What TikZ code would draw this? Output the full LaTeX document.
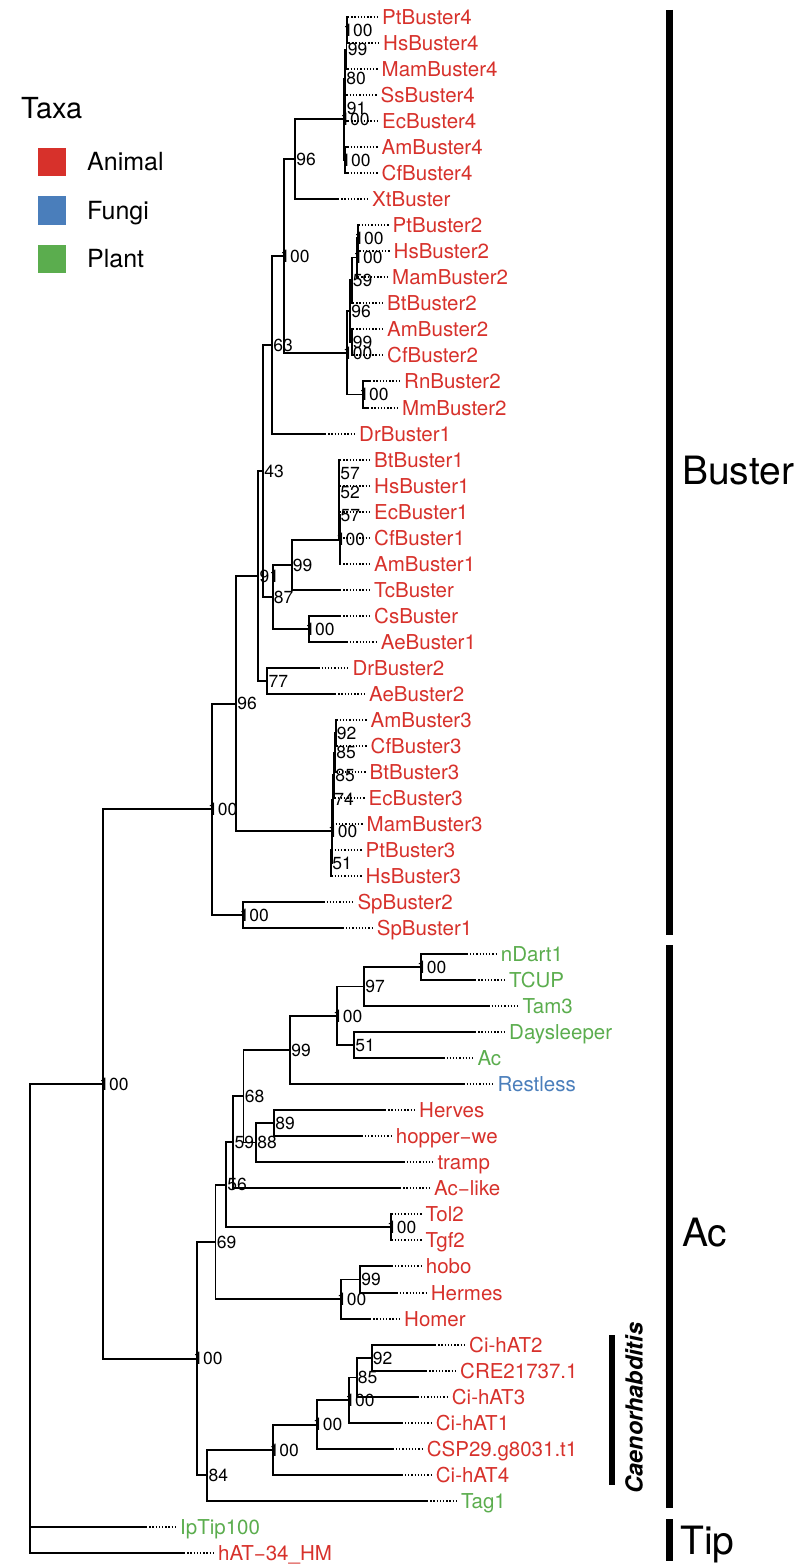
\documentclass[tikz,border=0pt]{standalone}
\usepackage{fontspec}
\setmainfont{TeX Gyre Heros}
\usepackage{xcolor}
\usepackage{tikz}
\definecolor{animal}{HTML}{D7312B}
\definecolor{fungi}{HTML}{4A7EBB}
\definecolor{plant}{HTML}{5BAD4E}

\begin{document}
\begin{tikzpicture}[x=1pt,y=-1pt]
		\tikzstyle{branch}=[line width=1.9pt]
		\tikzstyle{dots}=[line width=1.3pt,dash pattern=on 1.3pt off 1.9pt]
		\tikzstyle{tiplab}=[anchor=west,xshift=31pt,inner xsep=3pt,inner ysep=0pt,text height=14.8pt,text depth=0pt,text=animal,font=\fontsize{20.5}{22}\selectfont]
		\tikzstyle{boot}=[xshift=11pt,inner sep=0pt,text height=12.5pt,text depth=0pt,font=\fontsize{17.5}{18}\selectfont]
		\tikzstyle{cladebar}=[line width=7pt]
		\tikzstyle{cladelab}=[anchor=west,inner sep=0pt,text height=28pt,text depth=0pt,font=\fontsize{39}{40}\selectfont]
		\tikzstyle{keybox}=[draw=none,minimum size=28pt,inner sep=0pt]
		\tikzstyle{keylab}=[anchor=west,inner sep=0pt,text height=18pt,text depth=0pt,font=\fontsize{25}{26}\selectfont]
		\useasboundingbox (0,0) rectangle (800,1565);
		% tips
		\coordinate (tPt4) at (348,17); \node[tiplab] (lPt4) at (tPt4) {PtBuster4};
		\coordinate (tHs4) at (349,43); \node[tiplab] (lHs4) at (tHs4) {HsBuster4};
		\coordinate (tMam4) at (347.5,69); \node[tiplab] (lMam4) at (tMam4) {MamBuster4};
		\coordinate (tSs4) at (346.5,95); \node[tiplab] (lSs4) at (tSs4) {SsBuster4};
		\coordinate (tEc4) at (348,121); \node[tiplab] (lEc4) at (tEc4) {EcBuster4};
		\coordinate (tAm4) at (347.5,147); \node[tiplab] (lAm4) at (tAm4) {AmBuster4};
		\coordinate (tCf4) at (347.5,173); \node[tiplab] (lCf4) at (tCf4) {CfBuster4};
		\coordinate (tXt) at (338,199); \node[tiplab] (lXt) at (tXt) {XtBuster};
		\coordinate (tPt2) at (358.5,225); \node[tiplab] (lPt2) at (tPt2) {PtBuster2};
		\coordinate (tHs2) at (359.5,251); \node[tiplab] (lHs2) at (tHs2) {HsBuster2};
		\coordinate (tMam2) at (358,277); \node[tiplab] (lMam2) at (tMam2) {MamBuster2};
		\coordinate (tBt2) at (353,303); \node[tiplab] (lBt2) at (tBt2) {BtBuster2};
		\coordinate (tAm2) at (353,329); \node[tiplab] (lAm2) at (tAm2) {AmBuster2};
		\coordinate (tCf2) at (353,355); \node[tiplab] (lCf2) at (tCf2) {CfBuster2};
		\coordinate (tRn2) at (370,381); \node[tiplab] (lRn2) at (tRn2) {RnBuster2};
		\coordinate (tMm2) at (368,408); \node[tiplab] (lMm2) at (tMm2) {MmBuster2};
		\coordinate (tDr1) at (325,434); \node[tiplab] (lDr1) at (tDr1) {DrBuster1};
		\coordinate (tBt1) at (340,460); \node[tiplab] (lBt1) at (tBt1) {BtBuster1};
		\coordinate (tHs1) at (340,486); \node[tiplab] (lHs1) at (tHs1) {HsBuster1};
		\coordinate (tEc1) at (340,512); \node[tiplab] (lEc1) at (tEc1) {EcBuster1};
		\coordinate (tCf1) at (340,538); \node[tiplab] (lCf1) at (tCf1) {CfBuster1};
		\coordinate (tAm1) at (340,564); \node[tiplab] (lAm1) at (tAm1) {AmBuster1};
		\coordinate (tTc) at (340,590); \node[tiplab] (lTc) at (tTc) {TcBuster};
		\coordinate (tCs) at (340,616); \node[tiplab] (lCs) at (tCs) {CsBuster};
		\coordinate (tAe1) at (346.7,642); \node[tiplab] (lAe1) at (tAe1) {AeBuster1};
		\coordinate (tDr2) at (318.3,668); \node[tiplab] (lDr2) at (tDr2) {DrBuster2};
		\coordinate (tAe2) at (335,694); \node[tiplab] (lAe2) at (tAe2) {AeBuster2};
		\coordinate (tAm3) at (336.5,720); \node[tiplab] (lAm3) at (tAm3) {AmBuster3};
		\coordinate (tCf3) at (336.5,746); \node[tiplab] (lCf3) at (tCf3) {CfBuster3};
		\coordinate (tBt3) at (335.5,772); \node[tiplab] (lBt3) at (tBt3) {BtBuster3};
		\coordinate (tEc3) at (334.5,798); \node[tiplab] (lEc3) at (tEc3) {EcBuster3};
		\coordinate (tMam3) at (332.5,824); \node[tiplab] (lMam3) at (tMam3) {MamBuster3};
		\coordinate (tPt3) at (331.5,850); \node[tiplab] (lPt3) at (tPt3) {PtBuster3};
		\coordinate (tHs3) at (331.5,876); \node[tiplab] (lHs3) at (tHs3) {HsBuster3};
		\coordinate (tSp2) at (323.3,902); \node[tiplab] (lSp2) at (tSp2) {SpBuster2};
		\coordinate (tSp1) at (342.7,928); \node[tiplab] (lSp1) at (tSp1) {SpBuster1};
		\coordinate (tnDart) at (466.7,954); \node[tiplab,text=plant] (lnDart) at (tnDart) {nDart1};
		\coordinate (tTCUP) at (475,980); \node[tiplab,text=plant] (lTCUP) at (tTCUP) {TCUP};
		\coordinate (tTam) at (488.3,1006); \node[tiplab,text=plant] (lTam) at (tTam) {Tam3};
		\coordinate (tDays) at (475,1032); \node[tiplab,text=plant] (lDays) at (tDays) {Daysleeper};
		\coordinate (tAc) at (443.3,1058); \node[tiplab,text=plant] (lAc) at (tAc) {Ac};
		\coordinate (tRest) at (463.3,1084); \node[tiplab,text=fungi] (lRest) at (tRest) {Restless};
		\coordinate (tHerv) at (385,1110); \node[tiplab] (lHerv) at (tHerv) {Herves};
		\coordinate (tHop) at (361.7,1136); \node[tiplab] (lHop) at (tHop) {hopper−we};
		\coordinate (tTramp) at (403.3,1162); \node[tiplab] (lTramp) at (tTramp) {tramp};
		\coordinate (tAcl) at (400,1188); \node[tiplab] (lAcl) at (tAcl) {Ac−like};
		\coordinate (tTol) at (391.5,1214); \node[tiplab] (lTol) at (tTol) {Tol2};
		\coordinate (tTgf) at (391.5,1240); \node[tiplab] (lTgf) at (tTgf) {Tgf2};
		\coordinate (tHobo) at (391.7,1266); \node[tiplab] (lHobo) at (tHobo) {hobo};
		\coordinate (tHerm) at (396.7,1293); \node[tiplab] (lHerm) at (tHerm) {Hermes};
		\coordinate (tHomer) at (370,1319); \node[tiplab] (lHomer) at (tHomer) {Homer};
		\coordinate (tCi2) at (435,1345); \node[tiplab] (lCi2) at (tCi2) {Ci-hAT2};
		\coordinate (tCRE) at (426,1371); \node[tiplab] (lCRE) at (tCRE) {CRE21737.1};
		\coordinate (tCi3) at (417.7,1397); \node[tiplab] (lCi3) at (tCi3) {Ci-hAT3};
		\coordinate (tCi1) at (401.7,1423); \node[tiplab] (lCi1) at (tCi1) {Ci-hAT1};
		\coordinate (tCSP) at (392.7,1449); \node[tiplab] (lCSP) at (tCSP) {CSP29.g8031.t1};
		\coordinate (tCi4) at (401.7,1475); \node[tiplab] (lCi4) at (tCi4) {Ci-hAT4};
		\coordinate (tTag) at (427,1501); \node[tiplab,text=plant] (lTag) at (tTag) {Tag1};
		\coordinate (tIp) at (146,1527); \node[tiplab,text=plant] (lIp) at (tIp) {IpTip100};
		\coordinate (thAT) at (184,1553); \node[tiplab] (lhAT) at (thAT) {hAT−34\_HM};
		\foreach \t in {Pt4,Hs4,Mam4,Ss4,Ec4,Am4,Cf4,Xt,Pt2,Hs2,Mam2,Bt2,Am2,Cf2,Rn2,Mm2,Dr1,Bt1,Hs1,Ec1,Cf1,Am1,Tc,Cs,Ae1,Dr2,Ae2,Am3,Cf3,Bt3,Ec3,Mam3,Pt3,Hs3,Sp2,Sp1,nDart,TCUP,Tam,Days,Ac,Rest,Herv,Hop,Tramp,Acl,Tol,Tgf,Hobo,Herm,Homer,Ci2,CRE,Ci3,Ci1,CSP,Ci4,Tag,Ip,hAT}
			\draw[dots] (t\t) -- (l\t.west);
		% Buster
		\coordinate (b4ph) at (347,30);
		\coordinate (b4m) at (346.5,49.5);
		\coordinate (b4se) at (345.5,108);
		\coordinate (b4e) at (345,78.75);
		\coordinate (b4ac) at (345,160);
		\coordinate (b4) at (344,119.4);
		\coordinate (bx) at (295,159.2);
		\coordinate (b2ph) at (358,238);
		\coordinate (b2m) at (357,257.5);
		\coordinate (b2b) at (351.7,280.25);
		\coordinate (b2ac) at (351.7,342);
		\coordinate (b2x) at (350,311.1);
		\coordinate (b2rm) at (363,394.5);
		\coordinate (b2) at (346.7,352.8);
		\coordinate (b24) at (284,256);
		\coordinate (bd1) at (272,345);
		\coordinate (b1bh) at (339,473);
		\coordinate (b1e) at (339.2,492.5);
		\coordinate (b1c) at (339.4,515.25);
		\coordinate (b1) at (339.6,539.6);
		\coordinate (b1t) at (291.7,564.8);
		\coordinate (bca) at (309,629);
		\coordinate (b1ca) at (272.7,596.9);
		\coordinate (b41) at (263,471);
		\coordinate (bda) at (267.3,681);
		\coordinate (bup) at (258.3,576);
		\coordinate (b3ac) at (335.7,733);
		\coordinate (b3b) at (335,752.5);
		\coordinate (b3e) at (334,775.25);
		\coordinate (b3m) at (333,799.6);
		\coordinate (b3ph) at (331,863);
		\coordinate (b3) at (331.7,831.3);
		\coordinate (bmain) at (236,703.7);
		\coordinate (bsp) at (243.3,915);
		\coordinate (buster) at (211.7,809.3);
		\draw[branch] (b4ph) |- (tPt4) (b4ph) |- (tHs4);
		\draw[branch] (b4m) |- (b4ph) (b4m) |- (tMam4);
		\draw[branch] (b4se) |- (tSs4) (b4se) |- (tEc4);
		\draw[branch] (b4e) |- (b4m) (b4e) |- (b4se);
		\draw[branch] (b4ac) |- (tAm4) (b4ac) |- (tCf4);
		\draw[branch] (b4) |- (b4e) (b4) |- (b4ac);
		\draw[branch] (bx) |- (b4) (bx) |- (tXt);
		\draw[branch] (b2ph) |- (tPt2) (b2ph) |- (tHs2);
		\draw[branch] (b2m) |- (b2ph) (b2m) |- (tMam2);
		\draw[branch] (b2b) |- (b2m) (b2b) |- (tBt2);
		\draw[branch] (b2ac) |- (tAm2) (b2ac) |- (tCf2);
		\draw[branch] (b2x) |- (b2b) (b2x) |- (b2ac);
		\draw[branch] (b2rm) |- (tRn2) (b2rm) |- (tMm2);
		\draw[branch] (b2) |- (b2x) (b2) |- (b2rm);
		\draw[branch] (b24) |- (bx) (b24) |- (b2);
		\draw[branch] (bd1) |- (b24) (bd1) |- (tDr1);
		\draw[branch] (b1bh) |- (tBt1) (b1bh) |- (tHs1);
		\draw[branch] (b1e) |- (b1bh) (b1e) |- (tEc1);
		\draw[branch] (b1c) |- (b1e) (b1c) |- (tCf1);
		\draw[branch] (b1) |- (b1c) (b1) |- (tAm1);
		\draw[branch] (b1t) |- (b1) (b1t) |- (tTc);
		\draw[branch] (bca) |- (tCs) (bca) |- (tAe1);
		\draw[branch] (b1ca) |- (b1t) (b1ca) |- (bca);
		\draw[branch] (b41) |- (bd1) (b41) |- (b1ca);
		\draw[branch] (bda) |- (tDr2) (bda) |- (tAe2);
		\draw[branch] (bup) |- (b41) (bup) |- (bda);
		\draw[branch] (b3ac) |- (tAm3) (b3ac) |- (tCf3);
		\draw[branch] (b3b) |- (b3ac) (b3b) |- (tBt3);
		\draw[branch] (b3e) |- (b3b) (b3e) |- (tEc3);
		\draw[branch] (b3m) |- (b3e) (b3m) |- (tMam3);
		\draw[branch] (b3ph) |- (tPt3) (b3ph) |- (tHs3);
		\draw[branch] (b3) |- (b3m) (b3) |- (b3ph);
		\draw[branch] (bmain) |- (bup) (bmain) |- (b3);
		\draw[branch] (bsp) |- (tSp2) (bsp) |- (tSp1);
		\draw[branch] (buster) |- (bmain) (buster) |- (bsp);
		% Ac
		\coordinate (anT) at (420.7,967);
		\coordinate (atam) at (364,986.5);
		\coordinate (ada) at (354,1045);
		\coordinate (apl) at (336.7,1015.75);
		\coordinate (ares) at (290,1049.9);
		\coordinate (aher) at (274,1123);
		\coordinate (atr) at (256,1142.5);
		\coordinate (a68) at (243.5,1096.2);
		\coordinate (a59) at (233.3,1142.1);
		\coordinate (att) at (390.7,1227);
		\coordinate (a56) at (226,1184.6);
		\coordinate (ahh) at (360,1279.5);
		\coordinate (aho) at (340.7,1299.25);
		\coordinate (a69) at (215.5,1241.9);
		\coordinate (ac2) at (371.7,1358);
		\coordinate (ac3) at (356.7,1377.5);
		\coordinate (ac1) at (349,1400.25);
		\coordinate (acsp) at (316.7,1424.6);
		\coordinate (ac4) at (273.3,1449.8);
		\coordinate (atag) at (207.3,1475.4);
		\coordinate (ac) at (197,1358.6);
		\coordinate (top) at (103,1084);
		\coordinate (root) at (30,1318.5);
		\draw[branch] (anT) |- (tnDart) (anT) |- (tTCUP);
		\draw[branch] (atam) |- (anT) (atam) |- (tTam);
		\draw[branch] (ada) |- (tDays) (ada) |- (tAc);
		\draw[branch] (apl) |- (atam) (apl) |- (ada);
		\draw[branch] (ares) |- (apl) (ares) |- (tRest);
		\draw[branch] (aher) |- (tHerv) (aher) |- (tHop);
		\draw[branch] (atr) |- (aher) (atr) |- (tTramp);
		\draw[branch] (a68) |- (ares) (a68) |- (atr);
		\draw[branch] (a59) |- (a68) (a59) |- (tAcl);
		\draw[branch] (att) |- (tTol) (att) |- (tTgf);
		\draw[branch] (a56) |- (a59) (a56) |- (att);
		\draw[branch] (ahh) |- (tHobo) (ahh) |- (tHerm);
		\draw[branch] (aho) |- (ahh) (aho) |- (tHomer);
		\draw[branch] (a69) |- (a56) (a69) |- (aho);
		\draw[branch] (ac2) |- (tCi2) (ac2) |- (tCRE);
		\draw[branch] (ac3) |- (ac2) (ac3) |- (tCi3);
		\draw[branch] (ac1) |- (ac3) (ac1) |- (tCi1);
		\draw[branch] (acsp) |- (ac1) (acsp) |- (tCSP);
		\draw[branch] (ac4) |- (acsp) (ac4) |- (tCi4);
		\draw[branch] (atag) |- (ac4) (atag) |- (tTag);
		\draw[branch] (ac) |- (a69) (ac) |- (atag);
		\draw[branch] (top) |- (buster) (top) |- (ac);
		\draw[branch] (root) |- (top) (root) |- (tIp) (root) |- (thAT);
		% bootstrap values
		\node[boot] (vb4ph) at (b4ph) {100};
		\node[boot] (vb4m) at (b4m) {99};
		\node[boot] (vb4se) at (b4se) {91};
		\node[boot] (vb4e) at (b4e) {80};
		\node[boot] (vb4ac) at (b4ac) {100};
		\node[boot] (vb4) at (b4) {100};
		\node[boot] (vbx) at (bx) {96};
		\node[boot] (vb2ph) at (b2ph) {100};
		\node[boot] (vb2m) at (b2m) {100};
		\node[boot] (vb2b) at (b2b) {59};
		\node[boot] (vb2ac) at (b2ac) {99};
		\node[boot] (vb2x) at (b2x) {96};
		\node[boot] (vb2rm) at (b2rm) {100};
		\node[boot] (vb2) at (b2) {100};
		\node[boot] (vb24) at (b24) {100};
		\node[boot] (vbd1) at (bd1) {63};
		\node[boot] (vb1bh) at (b1bh) {57};
		\node[boot] (vb1e) at (b1e) {52};
		\node[boot] (vb1c) at (b1c) {57};
		\node[boot] (vb1) at (b1) {100};
		\node[boot] (vb1t) at (b1t) {99};
		\node[boot] (vbca) at (bca) {100};
		\node[boot] (vb1ca) at (b1ca) {87};
		\node[boot] (vb41) at (b41) {43};
		\node[boot] (vbda) at (bda) {77};
		\node[boot] (vbup) at (bup) {91};
		\node[boot] (vb3ac) at (b3ac) {92};
		\node[boot] (vb3b) at (b3b) {85};
		\node[boot] (vb3e) at (b3e) {85};
		\node[boot] (vb3m) at (b3m) {74};
		\node[boot] (vb3ph) at (b3ph) {51};
		\node[boot] (vb3) at (b3) {100};
		\node[boot] (vbmain) at (bmain) {96};
		\node[boot] (vbsp) at (bsp) {100};
		\node[boot] (vbuster) at (buster) {100};
		\node[boot] (vanT) at (anT) {100};
		\node[boot] (vatam) at (atam) {97};
		\node[boot] (vada) at (ada) {51};
		\node[boot] (vapl) at (apl) {100};
		\node[boot] (vares) at (ares) {99};
		\node[boot] (vaher) at (aher) {89};
		\node[boot] (vatr) at (atr) {88};
		\node[boot] (va68) at (a68) {68};
		\node[boot] (va59) at (a59) {59};
		\node[boot] (vatt) at (att) {100};
		\node[boot] (va56) at (a56) {56};
		\node[boot] (vahh) at (ahh) {99};
		\node[boot] (vaho) at (aho) {100};
		\node[boot] (va69) at (a69) {69};
		\node[boot] (vac2) at (ac2) {92};
		\node[boot] (vac3) at (ac3) {85};
		\node[boot] (vac1) at (ac1) {100};
		\node[boot] (vacsp) at (acsp) {100};
		\node[boot] (vac4) at (ac4) {100};
		\node[boot] (vatag) at (atag) {84};
		\node[boot] (vac) at (ac) {100};
		\node[boot] (vtop) at (top) {100};
		% clade bars
		\coordinate (busA) at (669,10); \coordinate (busB) at (669,935);
		\coordinate (acA) at (669,945); \coordinate (acB) at (669,1508);
		\coordinate (tipA) at (669,1519); \coordinate (tipB) at (669,1561);
		\coordinate (caeA) at (612,1335); \coordinate (caeB) at (612,1485);
		\draw[cladebar] (busA) -- (busB);
		\draw[cladebar] (acA) -- (acB);
		\draw[cladebar] (tipA) -- (tipB);
		\draw[line width=6pt] (caeA) -- (caeB);
		\node[cladelab] (busL) at (682,470) {Buster};
		\node[cladelab] (acL) at (682,1232) {Ac};
		\node[cladelab] (tipL) at (680,1540) {Tip};
		\node[rotate=90,inner sep=0pt,text height=17pt,text depth=0pt,font=\bfseries\itshape\fontsize{23.5}{24}\selectfont] (caeL) at (634,1408) {Caenorhabditis};
		% legend
		\node[anchor=base west,inner sep=0pt,font=\fontsize{29}{30}\selectfont] (taxa) at (21,119) {Taxa};
		\node[keybox,fill=animal] (kAni) at (52,162) {};
		\node[keybox,fill=fungi] (kFun) at (52,210.5) {};
		\node[keybox,fill=plant] (kPla) at (52,258.5) {};
		\node[keylab] (kAniL) at (87,162) {Animal};
		\node[keylab] (kFunL) at (87,210.5) {Fungi};
		\node[keylab] (kPlaL) at (87,258.5) {Plant};
		\end{tikzpicture}
\end{document}
